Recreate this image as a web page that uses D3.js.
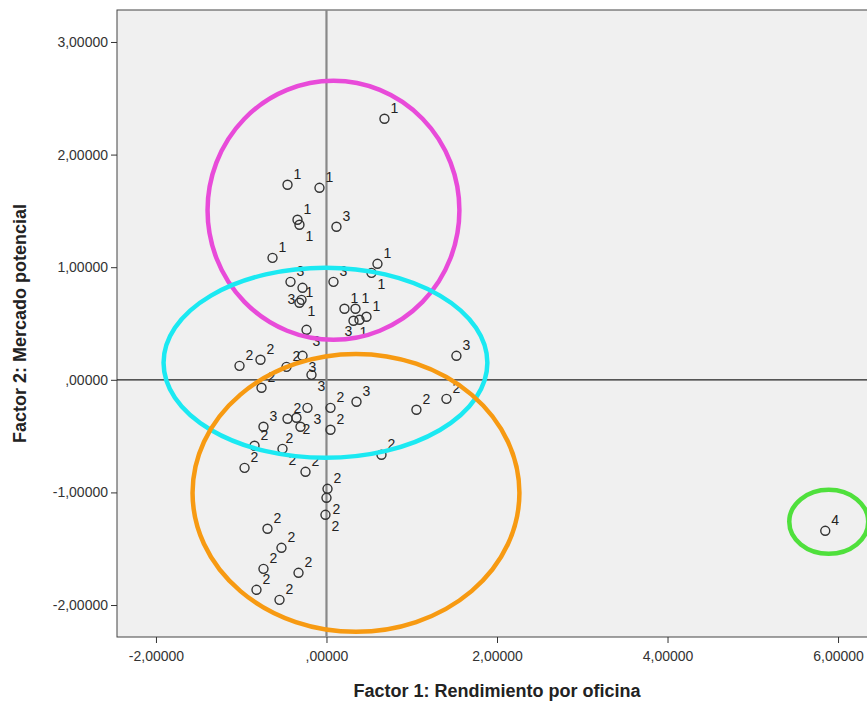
<!DOCTYPE html>
<html><head><meta charset="utf-8">
<script src="https://cdn.jsdelivr.net/npm/d3@7"></script>
<style>
body{margin:0;background:#fff;}
svg{display:block;}
text{font-family:"Liberation Sans",Arial,sans-serif;}
</style></head>
<body>
<svg id="chart" width="867" height="702"></svg>
<script>
// Factor scores (x = Factor 1, y = Factor 2) and cluster labels
const factor1 = [
 0.680,-0.457,-0.082,-0.340,-0.317,-0.633,0.598,0.528,-0.317,-0.293,0.211,0.340,0.317,0.469,
 0.117,-0.422,-0.281,0.082,0.387,-0.234,-0.281,-0.176,1.524,-0.223,0.352,-0.739,
 -1.020,-0.774,-0.469,-0.762,0.047,0.047,1.055,1.407,0.645,-0.457,-0.352,-0.305,-0.844,-0.516,-0.961,-0.246,0.012,0.000,-0.012,-0.692,-0.528,-0.739,-0.328,-0.821,-0.551,
 5.850];
const factor2 = [
 2.318,1.732,1.705,1.421,1.377,1.083,1.030,0.950,0.684,0.710,0.631,0.631,0.524,0.560,
 1.359,0.870,0.817,0.870,0.533,0.444,0.213,0.044,0.213,-0.249,-0.195,-0.417,
 0.124,0.178,0.115,-0.071,-0.249,-0.444,-0.266,-0.169,-0.666,-0.346,-0.337,-0.417,-0.586,-0.613,-0.782,-0.817,-0.968,-1.048,-1.199,-1.323,-1.492,-1.679,-1.714,-1.865,-1.954,
 -1.341];
const cluster = [
 1,1,1,1,1,1,1,1,1,1,1,1,1,1,
 3,3,3,3,3,3,3,3,3,3,3,3,
 2,2,2,2,2,2,2,2,2,2,2,2,2,2,2,2,2,2,2,2,2,2,2,2,2,
 4];
const xTicks = [-2,0,2,4,6];
const yTicks = [-2,-1,0,1,2,3];
const xTickLabels = ["-2,00000",",00000","2,00000","4,00000","6,00000"];
const yTickLabels = ["-2,00000","-1,00000",",00000","1,00000","2,00000","3,00000"];
// group ellipses (centre & radii in factor units)
const ellCx = [0.082,-0.012,0.346,5.891];
const ellCy = [1.505,0.151,-1.004,-1.261];
const ellRx = [1.477,1.899,1.917,0.463];
const ellRy = [1.150,0.844,1.234,0.284];
const ellColor = ["#e84bd9","#1be9f2","#f79a12","#4fe03c"];

const svg = d3.select("#chart");
const L=117, T=10, B=637, R=877;
const x = d3.scaleLinear().domain([-2.457,6.457]).range([L,R]);
const y = d3.scaleLinear().domain([-2.284,3.284]).range([B,T]);

svg.append("rect").attr("x",L).attr("y",T).attr("width",R-L).attr("height",B-T)
  .attr("fill","#f0f0f0").attr("stroke","#444").attr("stroke-width",1);

// reference lines
svg.append("line").attr("x1",L).attr("x2",R).attr("y1",y(0)).attr("y2",y(0))
  .attr("stroke","#222").attr("stroke-width",1.2);
svg.append("line").attr("x1",x(0)).attr("x2",x(0)).attr("y1",T).attr("y2",B)
  .attr("stroke","#888").attr("stroke-width",2.2);

// axes
const xAxis = d3.axisBottom(x).tickValues(xTicks).tickSize(6)
  .tickFormat((d,i)=>xTickLabels[i]);
const gx = svg.append("g").attr("transform",`translate(0,${B})`).call(xAxis);
gx.select(".domain").remove();
gx.selectAll("line").attr("stroke","#333");
gx.selectAll("text").attr("font-size",14).attr("fill","#333").attr("dy","1.1em");

const yAxis = d3.axisLeft(y).tickValues(yTicks).tickSize(6)
  .tickFormat((d,i)=>yTickLabels[i]);
const gy = svg.append("g").attr("transform",`translate(${L},0)`).call(yAxis);
gy.select(".domain").remove();
gy.selectAll("line").attr("stroke","#333");
gy.selectAll("text").attr("font-size",14).attr("fill","#333").attr("x",-9);

// axis titles
svg.append("text").attr("x",(L+R)/2).attr("y",697).attr("text-anchor","middle")
  .attr("font-size",18).attr("font-weight","bold").attr("fill","#222")
  .text("Factor 1: Rendimiento por oficina");
svg.append("text").attr("transform",`translate(26,${(T+B)/2}) rotate(-90)`)
  .attr("text-anchor","middle").attr("font-size",18).attr("font-weight","bold").attr("fill","#222")
  .text("Factor 2: Mercado potencial");

const clip = svg.append("clipPath").attr("id","pc").append("rect")
  .attr("x",L).attr("y",T).attr("width",R-L).attr("height",B-T);
const plot = svg.append("g").attr("clip-path","url(#pc)");

const pts = factor1.map((v,i)=>({x:v,y:factor2[i],c:cluster[i]}));
plot.selectAll("circle.pt").data(pts).enter().append("circle").attr("class","pt")
  .attr("cx",d=>x(d.x)).attr("cy",d=>y(d.y)).attr("r",4.5)
  .attr("fill","none").attr("stroke","#333").attr("stroke-width",1.4);

// greedy label placement (upper-right preferred, like the SPSS output)
const cands = [[6,-6],[6,16],[-15,-6],[-15,16],[10,5],[-18,5],[0,-16],[0,26],[14,-14],[14,22]];
const placed = [];
const lw = 9, asc = 13, lh = 16;
function box(lx,ly){return {x:lx,y:ly-asc,w:lw,h:lh};}
function hit(b){return placed.some(p=>b.x<p.x+p.w && b.x+b.w>p.x && b.y<p.y+p.h && b.y+b.h>p.y);}
pts.forEach(d=>{
  const px=x(d.x), py=y(d.y);
  let chosen=cands[0];
  for(const c of cands){
    if(!hit(box(px+c[0],py+c[1]))){chosen=c;break;}
  }
  d.lx=px+chosen[0]; d.ly=py+chosen[1];
  placed.push(box(d.lx,d.ly));
});
plot.selectAll("text.lb").data(pts).enter().append("text").attr("class","lb")
  .attr("x",d=>d.lx).attr("y",d=>d.ly)
  .attr("font-size",14).attr("fill","#222").text(d=>d.c);

const ells = ellCx.map((v,i)=>({cx:v,cy:ellCy[i],rx:ellRx[i],ry:ellRy[i],col:ellColor[i]}));
plot.selectAll("ellipse").data(ells).enter().append("ellipse")
  .attr("cx",d=>x(d.cx)).attr("cy",d=>y(d.cy))
  .attr("rx",d=>x(d.rx)-x(0)).attr("ry",d=>y(0)-y(d.ry))
  .attr("fill","none").attr("stroke",d=>d.col).attr("stroke-width",4.5);
</script>
</body></html>
